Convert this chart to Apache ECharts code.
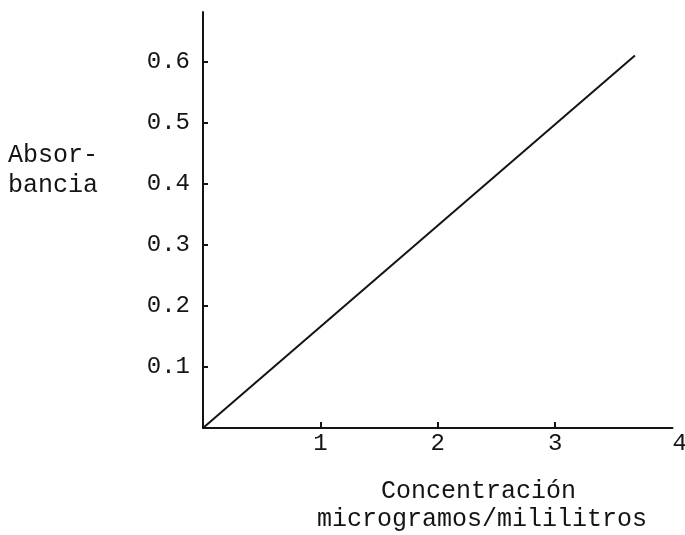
<!DOCTYPE html>
<html>
<head>
<meta charset="utf-8">
<script src="https://cdn.jsdelivr.net/npm/echarts@6/dist/echarts.min.js"></script>
<style>
html,body{margin:0;padding:0;background:#fff;}
#chart{width:685px;height:535px;}
</style>
</head>
<body>
<div id="chart"></div>
<script>
const concentration = [0, 3.68];
const absorbance = [0, 0.61];
const xTickValues = [1, 2, 3];
const xLabelValues = [1, 2, 3, 4];
const yTickValues = [0.1, 0.2, 0.3, 0.4, 0.5, 0.6];
const yAxisTitle = ['Absor-', 'bancia'];
const xAxisTitle = ['Concentración', 'microgramos/mililitros'];

const FONT = '"Liberation Mono", "Courier New", monospace';
const INK = '#141414';

const chart = echarts.init(document.getElementById('chart'), null, {renderer: 'canvas'});
chart.setOption({
  backgroundColor: '#ffffff',
  animation: false,
  grid: {left: 203, right: 12.5, top: 12, bottom: 107, containLabel: false, outerBoundsMode: 'none'},
  xAxis: {
    type: 'value', min: 0, max: 4,
    axisLine: {lineStyle: {color: INK, width: 2}},
    axisTick: {show: true, inside: true, length: 6, lineStyle: {color: INK, width: 2}, customValues: xTickValues},
    axisLabel: {color: INK, fontFamily: FONT, fontSize: 24, margin: 4, customValues: xLabelValues,
      alignMaxLabel: 'left', formatter: v => String(v)},
    splitLine: {show: false}
  },
  yAxis: {
    type: 'value', min: 0, max: 0.6814,
    axisLine: {show: true, lineStyle: {color: INK, width: 2}},
    axisTick: {show: true, inside: true, length: 5, lineStyle: {color: INK, width: 2}, customValues: yTickValues},
    axisLabel: {color: INK, fontFamily: FONT, fontSize: 24, margin: 13, customValues: yTickValues,
      formatter: v => v.toFixed(1)},
    splitLine: {show: false}
  },
  graphic: [
    {type: 'text', left: 8, top: 140, style: {text: yAxisTitle.join('\n'), font: '25px ' + FONT, fill: INK, lineHeight: 30}},
    {type: 'text', left: 381, top: 479, style: {text: xAxisTitle[0], font: '25px ' + FONT, fill: INK}},
    {type: 'text', left: 317, top: 507, style: {text: xAxisTitle[1], font: '25px ' + FONT, fill: INK}}
  ],
  series: [{
    type: 'line',
    data: concentration.map((c, i) => [c, absorbance[i]]),
    showSymbol: false,
    lineStyle: {color: INK, width: 2},
    silent: true
  }]
});
</script>
</body>
</html>
